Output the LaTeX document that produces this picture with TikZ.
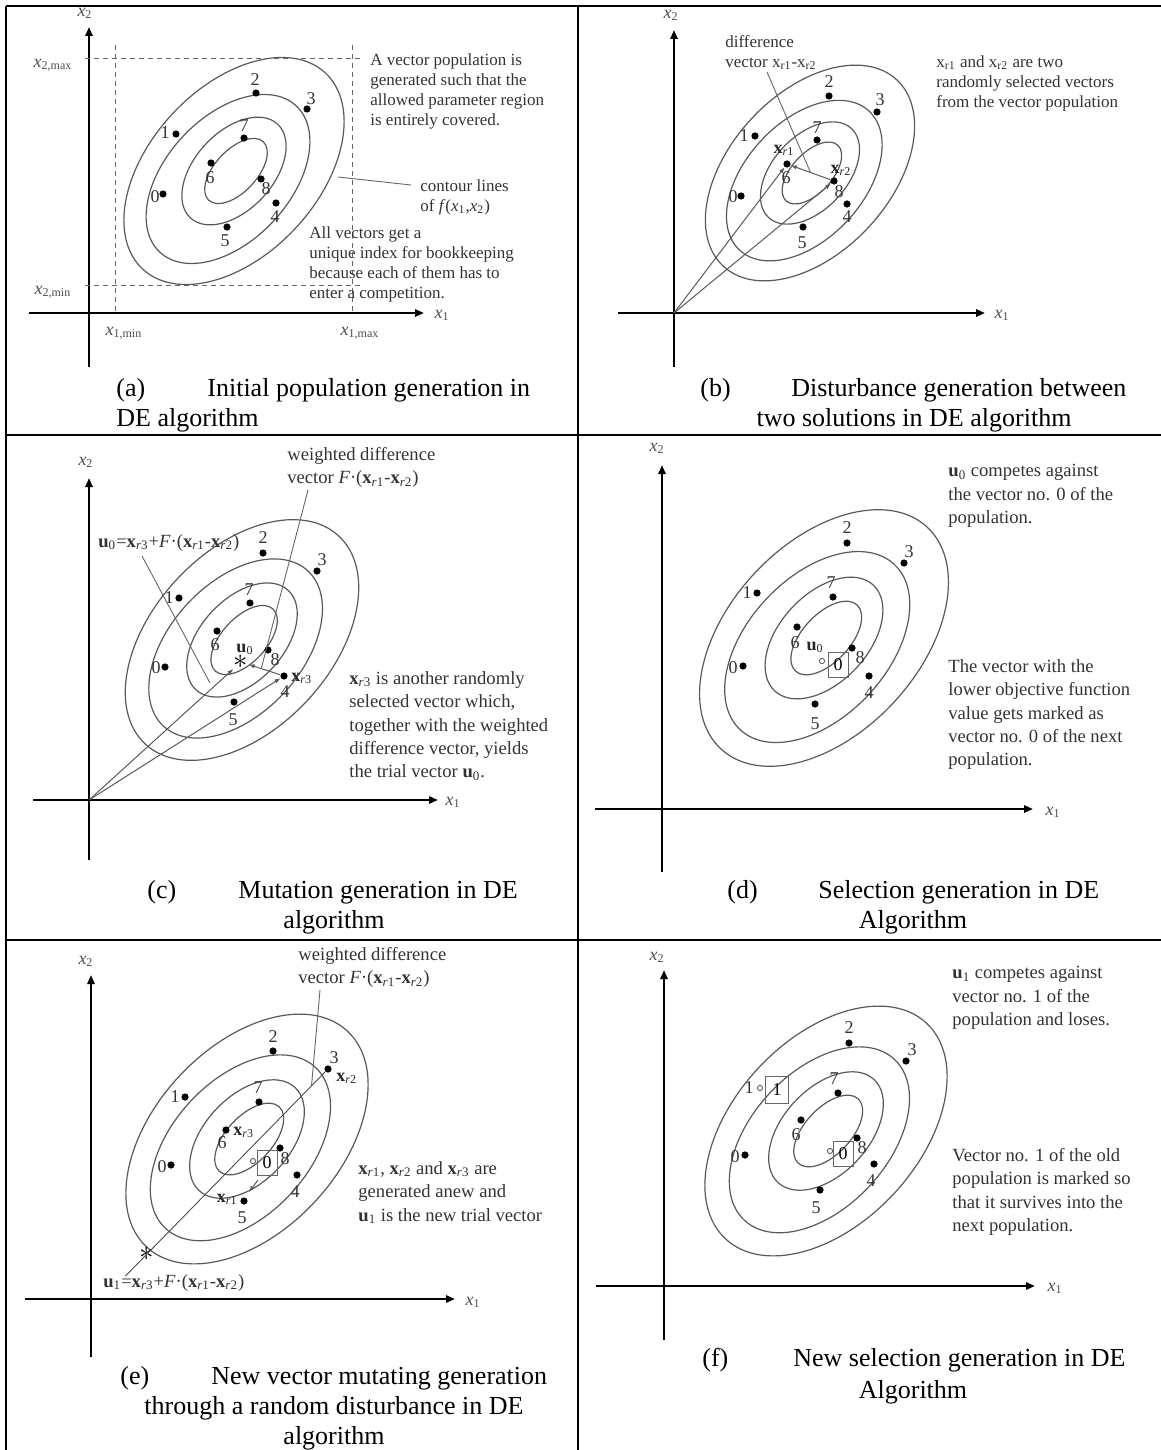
\documentclass[tikz,border=0pt]{standalone}
\usepackage{fontspec}
\setmainfont{Liberation Serif}
\usetikzlibrary{arrows.meta,positioning,calc}

\newcommand{\bx}[1]{\textbf{x}\textsubscript{\textit{r}#1}}
\newcommand{\bu}[1]{\textbf{u}\textsubscript{#1}}
\newcommand{\ix}[1]{\textit{x}\textsubscript{#1}}
\newcommand{\capline}[2]{\makebox[45.5pt][l]{#1}#2}
\newcommand{\contours}[3]{%
  \foreach \ra/\rb/\dx/\dy in {134/84/0/0,100/62/-6/8,64/39/0/0,40/21/2/0}
    \draw[contour, rotate around={47:(#1+#3*\dx,#2+#3*\dy)}] (#1+#3*\dx,#2+#3*\dy) ellipse [x radius=#3*\ra, y radius=#3*\rb];%
}

\begin{document}
\begin{tikzpicture}[x=0.5pt, y=-0.5pt,
  rule/.style={line width=1pt},
  axis/.style={line width=1.4pt, -{Triangle[length=4.5pt,width=3.6pt]}},
  contour/.style={draw=black!65, line width=0.6pt},
  guide/.style={draw=black!60, line width=0.45pt, dash pattern=on 2.5pt off 2pt},
  dot/.style={circle, fill=black, inner sep=0pt, minimum size=3.6pt},
  ring/.style={circle, draw=black!70, line width=0.4pt, inner sep=0pt, minimum size=2.6pt},
  num/.style={font=\fontsize{9}{9}\selectfont, text=black!80, inner sep=0pt},
  axlbl/.style={font=\fontsize{9}{9}\selectfont, text=black!70, inner sep=0pt},
  vlbl/.style={font=\fontsize{9}{9}\selectfont, text=black!85, inner sep=0pt},
  note/.style={font=\fontsize{8.5}{10}\selectfont, text=black!80, align=left, anchor=north west, inner sep=0pt},
  note2/.style={note, font=\fontsize{9.3}{11.7}\selectfont},
  capt/.style={font=\fontsize{13}{15}\selectfont, inner sep=0pt},
  lead/.style={draw=black!60, line width=0.45pt},
  vec/.style={draw=black!65, line width=0.5pt, -{Latex[length=3pt,width=2.2pt]}},
  numbox/.style={draw=black!60, line width=0.5pt, font=\fontsize{9}{9}\selectfont, inner sep=0pt, minimum width=10pt, minimum height=12.5pt},
  ast/.style={font=\fontsize{14}{14}\selectfont, inner sep=0pt}
]
\useasboundingbox (0,0) rectangle (1161,1450);

\draw[rule] (6,6) -- (1161,6) (6,435) -- (1161,435) (6,940) -- (1161,940)
  (6,6) -- (6,1450) (578,6) -- (578,1450);

\draw[axis] (29,313) -- (424,313);
\draw[axis] (89,367) -- (89,27);
\node[axlbl] (a-x1) at (442,315) {\ix{1}};
\node[axlbl] (a-x2) at (85,13) {\ix{2}};
\draw[guide] (85,58) -- (360,58) (85,285) -- (360,285) (115,45) -- (115,312) (352,45) -- (352,312);
\node[axlbl] (a-x2max) at (53,65) {\ix{2,max}};
\node[axlbl] (a-x2min) at (53,292) {\ix{2,min}};
\node[axlbl] (a-x1min) at (124,333) {\ix{1,min}};
\node[axlbl] (a-x1max) at (360,333) {\ix{1,max}};
\contours{234}{171}{1}
\foreach \i/\x/\y/\lx/\ly in {0/163/194/155/197, 1/176/134/165/133, 2/256/93/255/80, 3/307/109/311/99, 4/276/203/275/217, 5/227/227/225/241, 6/211/163/210/178, 7/244/138/244/126, 8/261/179/266/189}{
  \node[dot] (a\i) at (\x,\y) {};
  \node[num] (a\i-n) at (\lx,\ly) {\i};
}
\node[note] (a-cover) at (370,53) {A vector population is\\generated such that the\\allowed parameter region\\is entirely covered.};
\node[note] (a-cont) at (420,179) {contour lines\\of \textit{f}(\ix{1},\ix{2})};
\coordinate (a-cl) at (338,177);
\coordinate (a-ct) at (411,185);
\draw[lead] (a-cl) -- (a-ct);
\node[note] (a-index) at (309,226) {All vectors get a\\unique index for bookkeeping\\because each of them has to\\enter a competition.};
\node[capt, anchor=west] (a-cap1) at (116,390) {\capline{(a)}{Initial population generation in}};
\node[capt, anchor=west] (a-cap2) at (116,420) {DE algorithm};

\coordinate (ob) at (674,313);
\draw[axis] (618,313) -- (985,313);
\draw[axis] (674,367) -- (674,30);
\node[axlbl] (b-x1) at (1002,315) {\ix{1}};
\node[axlbl] (b-x2) at (671,15) {\ix{2}};
\contours{810}{173}{0.95}
\foreach \i/\x/\y/\lx/\ly in {0/741/196/733/197, 1/755/136/744/136, 2/829/96/829/82, 3/877/112/880/100, 4/847/204/847/217, 5/803/227/802/243, 6/787/164/786/178, 7/817/140/817/128, 8/834/181/839/192}{
  \node[dot] (b\i) at (\x,\y) {};
  \node[num] (b\i-n) at (\lx,\ly) {\i};
}
\draw[vec] (ob) -- (b6);
\draw[vec] (ob) -- (b8);
\draw[vec] (b8) -- (b6);
\node[vlbl] (b-xr1) at (784,150) {\bx{1}};
\node[vlbl] (b-xr2) at (841,170) {\bx{2}};
\node[note] (b-diff) at (725,35) {difference\\vector x\textsubscript{r1}-x\textsubscript{r2}};
\path (b6) -- (b8) coordinate[midway] (b-mid);
\coordinate (b-dl) at (767,72);
\draw[lead] (b-dl) -- (b-mid);
\node[note] (b-pick) at (936,55) {x\textsubscript{r1} and x\textsubscript{r2} are two\\randomly selected vectors\\from the vector population};
\node[capt, anchor=west] (b-cap1) at (700,390) {\capline{(b)}{Disturbance generation between}};
\node[capt] (b-cap2) at (914,420) {two solutions in DE algorithm};

\coordinate (oc) at (89,800);
\draw[axis] (33,800) -- (438,800);
\draw[axis] (89,860) -- (89,478);
\node[axlbl] (c-x1) at (453,802) {\ix{1}};
\node[axlbl] (c-x2) at (86,462) {\ix{2}};
\contours{242}{640}{1.06}
\foreach \i/\x/\y/\lx/\ly in {0/165/667/156/668, 1/179/598/169/598, 2/263/553/263/538, 3/317/571/322/560, 4/284/676/285/692, 5/234/702/233/720, 6/217/631/215/645, 7/250/603/249/590, 8/268/650/275/660}{
  \node[dot] (c\i) at (\x,\y) {};
  \node[num] (c\i-n) at (\lx,\ly) {\i};
}
\node[ast] (c-u0) at (241,662) {$\ast$};
\node[vlbl] (c-u0l) at (245,649) {\bu{0}};
\node[vlbl, anchor=west] (c-xr3) at (291,678) {\bx{3}};
\draw[vec] (oc) -- (c-u0);
\draw[vec] (oc) -- (c4);
\draw[vec] (c4) -- (c-u0);
\node[note2] (c-wd) at (287,447) {weighted difference\\vector \textit{F}·(\bx{1}-\bx{2})};
\path (c-u0) -- (c4) coordinate[pos=0.4] (c-mid);
\coordinate (c-wdl) at (308,490);
\draw[lead] (c-wdl) -- (c-mid);
\node[note2, anchor=west] (c-u0f) at (98,543) {\bu{0}=\bx{3}+\textit{F}·(\bx{1}-\bx{2})};
\coordinate (c-ul) at (142,556);
\coordinate (c-ue) at (210,683);
\draw[lead] (c-ul) -- (c-ue);
\node[note2] (c-note) at (349,671) {\bx{3} is another randomly\\selected vector which,\\together with the weighted\\difference vector, yields\\the trial vector \bu{0}.};
\node[capt, anchor=west] (c-cap1) at (147,892) {\capline{(c)}{Mutation generation in DE}};
\node[capt] (c-cap2) at (334,922) {algorithm};

\draw[axis] (595,809) -- (1033,809);
\draw[axis] (662,872) -- (662,465);
\node[axlbl] (d-x1) at (1053,812) {\ix{1}};
\node[axlbl] (d-x2) at (657,448) {\ix{2}};
\contours{824}{638}{1.13}
\foreach \i/\x/\y/\lx/\ly in {0/743/666/733/668, 1/757/593/747/593, 2/847/543/847/528, 3/904/563/909/552, 4/869/676/869/693, 5/815/704/815/724, 6/797/627/795/643, 7/833/597/831/583, 8/852/648/860/658}{
  \node[dot] (d\i) at (\x,\y) {};
  \node[num] (d\i-n) at (\lx,\ly) {\i};
}
\node[ring] (d-u0) at (822,661) {};
\node[vlbl] (d-u0l) at (815,647) {\bu{0}};
\node[numbox] (d-b0) at (838,665) {0};
\node[note2] (d-comp) at (948,464) {\bu{0} competes against\\the vector no. 0 of the\\population.};
\node[note2] (d-mark) at (948,659) {The vector with the\\lower objective function\\value gets marked as\\vector no. 0 of the next\\population.};
\node[capt, anchor=west] (d-cap1) at (727,892) {\capline{(d)}{Selection generation in DE}};
\node[capt] (d-cap2) at (913,922) {Algorithm};

\draw[axis] (25,1299) -- (455,1299);
\draw[axis] (91,1357) -- (91,975);
\node[axlbl] (e-x1) at (473,1302) {\ix{1}};
\node[axlbl] (e-x2) at (86,961) {\ix{2}};
\contours{247}{1139}{1.1}
\foreach \i/\x/\y/\lx/\ly in {0/171/1165/162/1167, 1/185/1097/175/1097, 2/273/1051/273/1037, 3/328/1069/334/1058, 4/297/1175/295/1192, 5/244/1201/242/1218, 6/226/1130/222/1143, 7/259/1102/258/1088, 8/280/1148/285/1159}{
  \node[dot] (e\i) at (\x,\y) {};
  \node[num] (e\i-n) at (\lx,\ly) {\i};
}
\node[ring] (e-u0) at (253,1161) {};
\node[numbox] (e-b0) at (267,1163) {0};
\node[ast] (e-u1) at (147,1254) {$\ast$};
\coordinate (e-end) at ($(e3)!1.12!(e-u1)$);
\draw[lead, draw=black!70] (e3) -- (e-end);
\path (e3) -- (e-u1) coordinate[pos=0.08] (e-hit);
\coordinate (e-wdl) at (320,990);
\draw[lead] (e-wdl) -- (e-hit);
\coordinate (e-sa) at (258,1180);
\coordinate (e-sb) at (249,1192);
\draw[vec] (e-sa) -- (e-sb);
\node[vlbl, anchor=west] (e-xr3) at (233,1132) {\bx{3}};
\node[vlbl, anchor=west] (e-xr2) at (336,1078) {\bx{2}};
\node[vlbl, anchor=east] (e-xr1) at (238,1199) {\bx{1}};
\node[note2] (e-wd) at (298,947) {weighted difference\\vector \textit{F}·(\bx{1}-\bx{2})};
\node[note2, anchor=west] (e-u1f) at (103,1283) {\bu{1}=\bx{3}+\textit{F}·(\bx{1}-\bx{2})};
\node[note2] (e-anew) at (358,1161) {\bx{1}, \bx{2} and \bx{3} are\\generated anew and\\\bu{1} is the new trial vector};
\node[capt, anchor=west] (e-cap1) at (120,1378) {\capline{(e)}{New vector mutating generation}};
\node[capt] (e-cap2) at (334,1408) {through a random disturbance in DE};
\node[capt] (e-cap3) at (334,1438) {algorithm};

\draw[axis] (596,1286) -- (1035,1286);
\draw[axis] (664,1340) -- (664,970);
\node[axlbl] (f-x1) at (1055,1288) {\ix{1}};
\node[axlbl] (f-x2) at (657,957) {\ix{2}};
\contours{826}{1131}{1.1}
\foreach \i/\x/\y/\lx/\ly in {0/745/1155/735/1157, 2/849/1043/849/1028, 3/906/1061/912/1050, 4/874/1164/871/1181, 5/820/1190/816/1208, 6/801/1120/796/1135, 7/838/1093/834/1079, 8/857/1138/862/1148}{
  \node[dot] (f\i) at (\x,\y) {};
  \node[num] (f\i-n) at (\lx,\ly) {\i};
}
\node[ring] (f1) at (760,1088) {};
\node[num] (f1-n) at (749,1088) {1};
\node[numbox, minimum width=11.5pt, minimum height=13.5pt] (f-b1) at (777,1090) {1};
\node[ring] (f-u0) at (830,1151) {};
\node[numbox] (f-b0) at (843,1154) {0};
\node[note2] (f-lose) at (952,966) {\bu{1} competes against\\vector no. 1 of the\\population and loses.};
\node[note2] (f-keep) at (952,1148) {Vector no. 1 of the old\\population is marked so\\that it survives into the\\next population.};
\node[capt, anchor=west] (f-cap1) at (702,1360) {\capline{(f)}{New selection generation in DE}};
\node[capt] (f-cap2) at (913,1392) {Algorithm};
\end{tikzpicture}
\end{document}
